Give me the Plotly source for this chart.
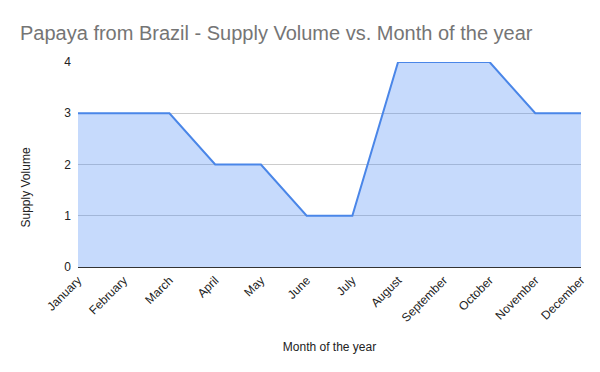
import plotly.graph_objects as go

months = ["January", "February", "March", "April", "May", "June", "July",
          "August", "September", "October", "November", "December"]
supply = [3, 3, 3, 2, 2, 1, 1, 4, 4, 4, 3, 3]

W, H = 592, 364  # page body has an 8px margin

fig = go.Figure()
fig.add_trace(go.Scatter(
    x=months, y=supply, mode="lines", fill="tozeroy",
    line=dict(color="#4a86e8", width=2),
    fillcolor="rgba(66,133,244,0.30)",
))

fig.update_layout(
    width=W, height=H,
    margin=dict(l=70, r=19, t=54, b=105, autoexpand=False),
    paper_bgcolor="white", plot_bgcolor="white",
    font=dict(family="Liberation Sans, Arial", size=12, color="#222222"),
    title=dict(text="Papaya from Brazil - Supply Volume vs. Month of the year",
               x=12 / W, xref="container", xanchor="left",
               y=1 - 25 / H, yref="container", yanchor="middle",
               font=dict(size=20, color="#757575")),
    showlegend=False,
    xaxis=dict(
        tickangle=-45, showgrid=False, range=[0, 11], automargin=False,
        ticks="", tickfont=dict(size=12, color="#222222"), ticklabelstandoff=3,
        title=dict(text="Month of the year", font=dict(size=12, color="#222222"), standoff=18),
        showline=False, zeroline=False,
    ),
    yaxis=dict(
        range=[0, 4], tickvals=[0, 1, 2, 3, 4], automargin=False,
        showgrid=True, gridcolor="#cccccc", gridwidth=1,
        zeroline=True, zerolinecolor="#333333", zerolinewidth=1,
        tickfont=dict(size=12, color="#222222"),
        ticks="", ticklabelstandoff=6,
    ),
    annotations=[dict(
        text="Supply Volume", xref="paper", yref="paper", x=0, y=0.5,
        xshift=-53, yshift=-23, textangle=-90, showarrow=False,
        xanchor="center", yanchor="middle",
        font=dict(size=12, color="#222222"),
    )],
)

fig.write_html("out.html")
